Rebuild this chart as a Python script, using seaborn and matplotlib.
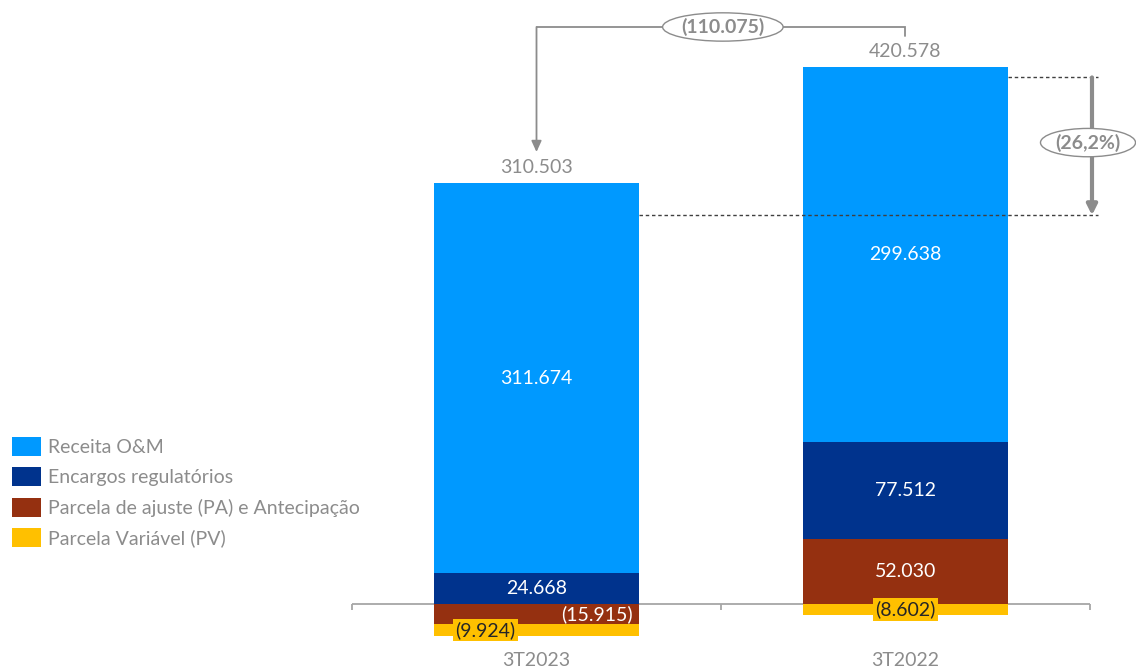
import matplotlib
matplotlib.use("Agg")
import matplotlib.pyplot as plt
from matplotlib.patches import Patch
import seaborn as sns
import numpy as np

# ---- data ----
categories = ["3T2023", "3T2022"]
series_names = ["Receita O&M", "Encargos regulatórios",
                "Parcela de ajuste (PA) e Antecipação", "Parcela Variável (PV)"]
receita = [311.674, 299.638]
encargos = [24.668, 77.512]
parcela_ajuste = [-15.915, 52.030]
parcela_variavel = [-9.924, -8.602]
totals = [310.503, 420.578]
variation_abs = "(110.075)"
variation_pct = "(26,2%)"

colors = {"Receita O&M": "#0099FF", "Encargos regulatórios": "#00338D",
          "Parcela de ajuste (PA) e Antecipação": "#953010",
          "Parcela Variável (PV)": "#FFC000"}
GRAY = "#8C8C8C"

sns.set_theme(style="white")
plt.rcParams["font.family"] = ["Lato", "DejaVu Sans"]

W, H = 1136, 668
fig = plt.figure(figsize=(W / 100, H / 100), dpi=100)
ymin, ymax = -35.14, 480
pxu = 1.252
ax = fig.add_axes([352 / W, 20 / H, 738 / W, (ymax - ymin) * pxu / H])

bar_w = 0.555
layers = [("Parcela de ajuste (PA) e Antecipação", parcela_ajuste),
          ("Parcela Variável (PV)", parcela_variavel),
          ("Encargos regulatórios", encargos),
          ("Receita O&M", receita)]
pos = np.zeros(len(categories))
neg = np.zeros(len(categories))
bottoms = {}
for name, vals in layers:
    v = np.array(vals, dtype=float)
    b = np.where(v >= 0, pos, neg)
    bottoms[name] = b
    sns.barplot(x=categories, y=v, bottom=b, color=colors[name], width=bar_w,
                saturation=1, errorbar=None, linewidth=0, ax=ax, zorder=2)
    pos = pos + np.clip(v, 0, None)
    neg = neg + np.clip(v, None, 0)

ax.set_xlim(-0.5, 1.5)
ax.set_ylim(ymin, ymax)
for s in ax.spines.values():
    s.set_visible(False)
ax.set_yticks([])
ax.set_xticks(range(len(categories)))
ax.set_xticklabels(categories, color=GRAY, fontsize=14)
ax.tick_params(axis="x", length=0, pad=3)
ax.set_xlabel("")
ax.set_ylabel("")

# baseline with ticks
ax.axhline(0, color="#A6A6A6", lw=1.3, zorder=1)
ax.vlines([-0.5, 0.5, 1.5], -4.8, 0, color="#A6A6A6", lw=1.3, zorder=1, clip_on=False)


def fmt(v):
    s = f"{abs(v):.3f}"
    return f"({s})" if v < 0 else s


lab_fs = 14
for name, vals in layers:
    for i, v in enumerate(vals):
        yc = bottoms[name][i] + v / 2
        if name == "Parcela Variável (PV)":
            xo = -0.139 if i == 0 else 0.0
            ax.text(i + xo, yc, fmt(v), ha="center", va="center", fontsize=lab_fs,
                    color="#262626", zorder=4,
                    bbox=dict(boxstyle="square,pad=0.12", fc=colors[name], ec="none"))
        elif name == "Parcela de ajuste (PA) e Antecipação" and v < 0:
            ax.text(i + 0.164, yc, fmt(v), ha="center", va="center", fontsize=lab_fs,
                    color="white", zorder=3)
        else:
            ax.text(i, yc, fmt(v), ha="center", va="center", fontsize=lab_fs,
                    color="white", zorder=3)

# totals above bars
for i, t in enumerate(totals):
    ax.annotate(fmt(t), xy=(i, pos[i]), xytext=(0, 11), textcoords="offset points",
                ha="center", va="center", fontsize=lab_fs, color=GRAY)

# bracket with variation
top_y = max(totals) + 40.3
ax.plot([1, 1, 0], [totals[1] + 33, top_y, top_y], color=GRAY, lw=1.3,
        clip_on=False, solid_joinstyle="miter")
ax.annotate("", xy=(0, totals[0] + 50.5), xytext=(0, top_y),
            arrowprops=dict(arrowstyle="-|>,head_length=0.55,head_width=0.25",
                            color=GRAY, lw=1.3, shrinkA=0, shrinkB=0),
            annotation_clip=False)
ax.text(0.505, top_y, variation_abs, ha="center", va="center", fontsize=lab_fs,
        fontweight="bold", color=GRAY, zorder=5,
        bbox=dict(boxstyle="ellipse,pad=0.05", fc="white", ec=GRAY, lw=1.0))

# percentage arrow
xr = 1.5054
ax.hlines(totals[1], 1 + bar_w / 2, 1.522, colors="#404040", linestyles=(0, (2.5, 2)),
          lw=1, clip_on=False)
ax.hlines(totals[0], 0 + bar_w / 2, 1.522, colors="#404040", linestyles=(0, (2.5, 2)),
          lw=1, clip_on=False)
ax.annotate("", xy=(xr, totals[0]), xytext=(xr, totals[1]),
            arrowprops=dict(arrowstyle="-|>,head_length=0.5,head_width=0.25",
                            color=GRAY, lw=3, shrinkA=0, shrinkB=0),
            annotation_clip=False)
ax.text(1.4946, (totals[0] + totals[1]) / 2 + 3, variation_pct, ha="center", va="center",
        fontsize=lab_fs, fontweight="bold", color=GRAY, zorder=5, clip_on=False,
        bbox=dict(boxstyle="ellipse,pad=0.05", fc="white", ec=GRAY, lw=1.0))

# legend
handles = [Patch(facecolor=colors[n], edgecolor="none") for n in series_names]
fig.legend(handles, series_names, loc="upper left", bbox_to_anchor=(4 / W, 1 - 429 / H),
           frameon=False, fontsize=14, labelcolor=GRAY, handlelength=1.5,
           handleheight=1.13, handletextpad=0.38, labelspacing=0.58, borderaxespad=0)

fig.savefig("out.png", dpi=100)
